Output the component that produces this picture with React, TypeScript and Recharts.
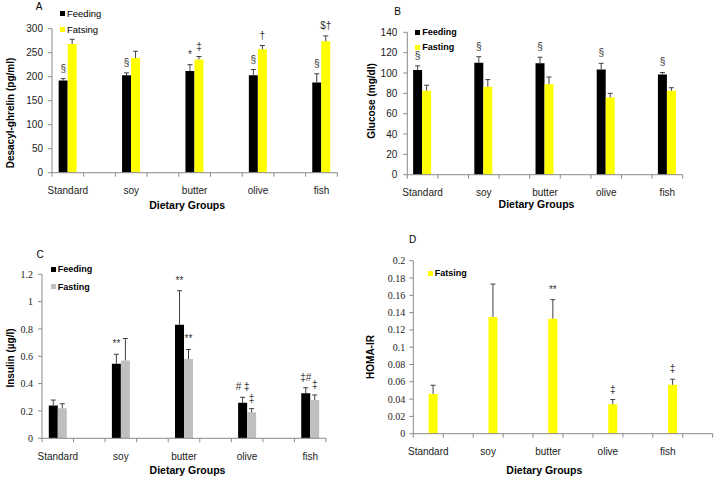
import React from "react";
import { BarChart, Bar, XAxis, YAxis, LabelList } from "recharts";

const groups = ["Standard", "soy", "butter", "olive", "fish"];

// A: desacyl-ghrelin (pg/ml)
const ghrelinFeeding = [192, 203, 212, 203, 188];
const ghrelinFeedingErr = [4, 5, 13, 12, 18];
const ghrelinFeedingMarks = ["§", "§", "*", "§", "§"];
const ghrelinFasting = [268, 239, 236, 257, 274];
const ghrelinFastingErr = [10, 14, 6, 8, 11];
const ghrelinFastingMarks = ["", "", "‡", "†", "$†"];
const ghrelinTicks = [0, 50, 100, 150, 200, 250, 300];

// B: glucose (mg/dl)
const glucoseFeeding = [103, 110, 109.5, 103.5, 98.5];
const glucoseFeedingErr = [4, 6, 6, 6, 2];
const glucoseFeedingMarks = ["§", "§", "§", "§", "§"];
const glucoseFasting = [82.5, 86.5, 89, 76, 82.5];
const glucoseFastingErr = [5.5, 7, 7, 4, 3];
const glucoseFastingMarks = ["", "", "", "", ""];
const glucoseTicks = [0, 20, 40, 60, 80, 100, 120, 140];

// C: insulin (µg/l)
const insulinFeeding = [0.24, 0.545, 0.83, 0.26, 0.33];
const insulinFeedingErr = [0.04, 0.07, 0.25, 0.04, 0.04];
const insulinFeedingMarks = ["", "**", "**", "# ‡", "‡#"];
const insulinFasting = [0.22, 0.57, 0.58, 0.19, 0.28];
const insulinFastingErr = [0.033, 0.16, 0.07, 0.027, 0.037];
const insulinFastingMarks = ["", "", "**", "‡", "‡"];
const insulinTicks = [0, 0.2, 0.4, 0.6, 0.8, 1, 1.2];

// D: HOMA-IR (fasting only)
const homaFasting = [0.046, 0.135, 0.133, 0.034, 0.0565];
const homaFastingErr = [0.01, 0.038, 0.022, 0.0055, 0.0065];
const homaFastingMarks = ["", "", "**", "‡", "‡"];
const homaTicks = [0, 0.02, 0.04, 0.06, 0.08, 0.1, 0.12, 0.14, 0.16, 0.18, 0.2];

const SANS = "'Liberation Sans', Arial, sans-serif";
const SERIF = "'Liberation Serif', 'Times New Roman', serif";
const AXIS = "#8a8a8a";
const TEXT = "#222";
const ERR = "#404040";
const YELLOW = "#ffff00";
const GRAY = "#bfbfbf";

type Series = {
  key: string;
  color: string;
  values?: number[];
  errs?: number[];
  marks?: string[];
};

// Excel sheet had blank columns between groups
function buildRows(series: Series[], trailingGap: boolean) {
  const rows: any[] = [];
  groups.forEach((g, i) => {
    if (i > 0) rows.push({ slot: `gap-${i}` });
    const row: any = { slot: g };
    series.forEach((s) => {
      if (!s.values) return;
      row[s.key] = s.values[i];
      row[s.key + "Err"] = s.errs?.[i] ?? 0;
      row[s.key + "Mark"] = s.marks?.[i] ?? "";
    });
    rows.push(row);
  });
  if (trailingGap) rows.push({ slot: "gap-end" });
  return rows;
}

function CategoryTick(props: any) {
  const { x, y, payload, index, visibleTicksCount, width } = props;
  const band = width / visibleTicksCount;
  const label = String(payload.value).startsWith("gap") ? "" : payload.value;
  return (
    <g>
      <line x1={x - band / 2} y1={y} x2={x - band / 2} y2={y + 4} stroke={AXIS} />
      {index === visibleTicksCount - 1 && (
        <line x1={x + band / 2} y1={y} x2={x + band / 2} y2={y + 4} stroke={AXIS} />
      )}
      {label && (
        <text x={x} y={y + 18} dy="0.35em" textAnchor="middle" fontSize={10} fill={TEXT} fontFamily={SANS}>
          {label}
        </text>
      )}
    </g>
  );
}

function renderErrMark(props: any) {
  const vb = props.viewBox || props;
  const info = props.value;
  if (!info || info.v == null || !vb.height) return null;
  const ppu = vb.height / info.v;
  const top = vb.y - info.err * ppu;
  const cx = vb.x + vb.width / 2;
  return (
    <g>
      <line x1={cx} y1={vb.y} x2={cx} y2={top} stroke={ERR} strokeWidth={1} />
      <line x1={cx - 2.5} y1={top} x2={cx + 2.5} y2={top} stroke={ERR} strokeWidth={1} />
      {info.mark ? (
        <text x={cx} y={top - 7} textAnchor="middle" fontSize={10} fill="#333" fontFamily={SANS}>
          {info.mark}
        </text>
      ) : null}
    </g>
  );
}

type PanelProps = {
  left: number;
  top: number;
  width: number;
  height: number;
  margin: { top: number; right: number; bottom: number; left: number };
  yWidth: number;
  yDomain: [number, number];
  yTicks: number[];
  yTickMargin: number;
  yFont: string;
  series: Series[];
  trailingGap: boolean;
  gap: string;
};

function Panel(p: PanelProps) {
  const rows = buildRows(p.series, p.trailingGap);
  return (
    <div style={{ position: "absolute", left: p.left, top: p.top }}>
      <BarChart width={p.width} height={p.height} data={rows} margin={p.margin} barCategoryGap={p.gap} barGap={0}>
        <XAxis
          dataKey="slot"
          interval={0}
          tickLine={false}
          tickSize={0}
          tickMargin={0}
          height={40}
          stroke={AXIS}
          tick={<CategoryTick />}
        />
        <YAxis
          width={p.yWidth}
          domain={p.yDomain}
          ticks={p.yTicks}
          interval={0}
          allowDataOverflow
          tickSize={4}
          tickMargin={p.yTickMargin}
          stroke={AXIS}
          tick={{ fontSize: 10, fill: TEXT, fontFamily: p.yFont }}
        />
        {p.series.map((s) => (
          <Bar key={s.key} dataKey={s.key} fill={s.color} isAnimationActive={false}>
            {s.values && (
              <LabelList
                dataKey={(r: any) => ({ v: r[s.key], err: r[s.key + "Err"], mark: r[s.key + "Mark"] })}
                content={renderErrMark}
              />
            )}
          </Bar>
        ))}
      </BarChart>
    </div>
  );
}

function VTitle({ cx, cy, text }: { cx: number; cy: number; text: string }) {
  return (
    <div
      style={{
        position: "absolute",
        left: cx,
        top: cy,
        transform: "translate(-50%, -50%) rotate(-90deg)",
        whiteSpace: "nowrap",
        fontWeight: "bold",
        fontSize: 10,
        lineHeight: "12px",
      }}
    >
      {text}
    </div>
  );
}

function HTitle({ cx, cy, text, bold = true, size = 10.5 }: { cx: number; cy: number; text: string; bold?: boolean; size?: number }) {
  return (
    <div
      style={{
        position: "absolute",
        left: cx,
        top: cy,
        transform: "translate(-50%, -50%)",
        whiteSpace: "nowrap",
        fontWeight: bold ? "bold" : "normal",
        fontSize: size,
        lineHeight: "12px",
      }}
    >
      {text}
    </div>
  );
}

function LegendItem({ x, cy, color, text, bold }: { x: number; cy: number; color: string; text: string; bold: boolean }) {
  return (
    <div
      style={{
        position: "absolute",
        left: x,
        top: cy - 6,
        height: 12,
        display: "flex",
        alignItems: "center",
        whiteSpace: "nowrap",
        fontWeight: bold ? "bold" : "normal",
        fontSize: bold ? 9 : 9.5,
      }}
    >
      <span style={{ display: "inline-block", width: 5, height: 5, background: color, marginRight: 2 }} />
      {text}
    </div>
  );
}

export default function App() {
  return (
    <div
      style={{
        position: "absolute",
        left: 0,
        top: 0,
        width: 716,
        height: 479,
        background: "#fff",
        fontFamily: SANS,
        color: "#000",
        overflow: "hidden",
      }}
    >
      <Panel
        left={0}
        top={0}
        width={358}
        height={240}
        margin={{ top: 28.7, right: 20.7, bottom: 27.3, left: 0 }}
        yWidth={52}
        yDomain={[0, 300]}
        yTicks={ghrelinTicks}
        yTickMargin={5}
        yFont={SANS}
        gap="21%"
        trailingGap={false}
        series={[
          { key: "feed", color: "#000", values: ghrelinFeeding, errs: ghrelinFeedingErr, marks: ghrelinFeedingMarks },
          { key: "fast", color: YELLOW, values: ghrelinFasting, errs: ghrelinFastingErr, marks: ghrelinFastingMarks },
        ]}
      />
      <Panel
        left={358}
        top={0}
        width={358}
        height={240}
        margin={{ top: 32.3, right: 33.3, bottom: 25.3, left: 0 }}
        yWidth={49.3}
        yDomain={[0, 140]}
        yTicks={glucoseTicks}
        yTickMargin={6}
        yFont={SANS}
        gap="19%"
        trailingGap={false}
        series={[
          { key: "feed", color: "#000", values: glucoseFeeding, errs: glucoseFeedingErr, marks: glucoseFeedingMarks },
          { key: "fast", color: YELLOW, values: glucoseFasting, errs: glucoseFastingErr, marks: glucoseFastingMarks },
        ]}
      />
      <Panel
        left={0}
        top={240}
        width={358}
        height={239}
        margin={{ top: 34.3, right: 32, bottom: 0.7, left: 0 }}
        yWidth={42}
        yDomain={[0, 1.2]}
        yTicks={insulinTicks}
        yTickMargin={5}
        yFont={SERIF}
        gap="21.5%"
        trailingGap={false}
        series={[
          { key: "feed", color: "#000", values: insulinFeeding, errs: insulinFeedingErr, marks: insulinFeedingMarks },
          { key: "fast", color: GRAY, values: insulinFasting, errs: insulinFastingErr, marks: insulinFastingMarks },
        ]}
      />
      <Panel
        left={358}
        top={240}
        width={358}
        height={239}
        margin={{ top: 20.7, right: 3.3, bottom: 5.3, left: 0 }}
        yWidth={55.3}
        yDomain={[0, 0.2]}
        yTicks={homaTicks}
        yTickMargin={4}
        yFont={SERIF}
        gap="21%"
        trailingGap={true}
        series={[
          { key: "feed", color: "#000" },
          { key: "fast", color: YELLOW, values: homaFasting, errs: homaFastingErr, marks: homaFastingMarks },
        ]}
      />

      {/* panel letters */}
      <HTitle cx={39} cy={7} text="A" bold={false} size={10} />
      <HTitle cx={397.7} cy={12} text="B" bold={false} size={10} />
      <HTitle cx={40} cy={255} text="C" bold={false} size={10} />
      <HTitle cx={412.7} cy={239.5} text="D" bold={false} size={10} />

      {/* axis titles */}
      <VTitle cx={10.8} cy={112.5} text="Desacyl-ghrelin (pg/ml)" />
      <VTitle cx={372} cy={100.8} text="Glucose (mg/dl)" />
      <VTitle cx={10.8} cy={357.5} text="Insulin (µg/l)" />
      <VTitle cx={370.8} cy={356.7} text="HOMA-IR" />
      <HTitle cx={187.2} cy={205} text="Dietary Groups" />
      <HTitle cx={536.5} cy={203.7} text="Dietary Groups" />
      <HTitle cx={187.5} cy={470} text="Dietary Groups" />
      <HTitle cx={544.3} cy={470} text="Dietary Groups" />

      {/* legends */}
      <LegendItem x={60} cy={13.3} color="#000" text="Feeding" bold={false} />
      <LegendItem x={60} cy={29} color={YELLOW} text="Fatsing" bold={false} />
      <LegendItem x={415.3} cy={32} color="#000" text="Feeding" bold={true} />
      <LegendItem x={415.3} cy={47.3} color={YELLOW} text="Fasting" bold={true} />
      <LegendItem x={50.7} cy={269.3} color="#000" text="Feeding" bold={true} />
      <LegendItem x={50.7} cy={286.7} color={GRAY} text="Fasting" bold={true} />
      <LegendItem x={427.7} cy={273.3} color={YELLOW} text="Fatsing" bold={true} />
    </div>
  );
}
